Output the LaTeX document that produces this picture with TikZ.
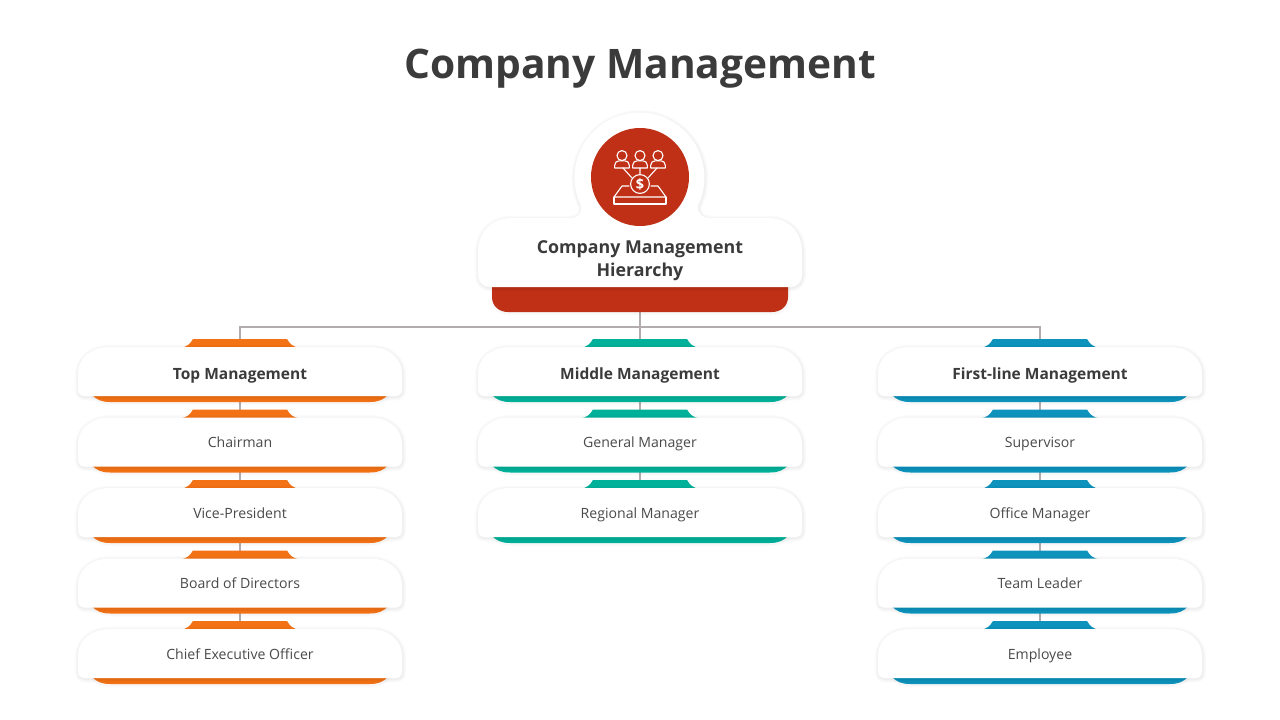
\documentclass[tikz,border=0pt]{standalone}
\usepackage{fontspec}
\setmainfont{Open Sans}
\definecolor{ink}{HTML}{3B3B3B}
\definecolor{bodyink}{HTML}{4A4A4A}
\definecolor{rust}{HTML}{C03017}
\definecolor{orangeC}{HTML}{F37216}
\definecolor{tealC}{HTML}{00B19A}
\definecolor{blueC}{HTML}{0E93BC}
\definecolor{linkC}{HTML}{B2ACAE}
\pgfdeclarelayer{conn}\pgfdeclarelayer{cards}
\pgfsetlayers{conn,cards,main}
\tikzset{
  cardtext/.style={inner sep=0pt,minimum width=324pt,minimum height=49pt,align=center,text=bodyink,font=\fontsize{14.1}{17}\selectfont,text height=11pt,text depth=0pt},
  headtext/.style={cardtext,text=ink,font=\fontsize{15.5}{17}\selectfont\bfseries,text height=16pt,text depth=0pt},
  link/.style={draw=linkC,line width=1.5pt},
  icon/.style={draw=white,line width=1.1pt,line join=round,line cap=round},
  softshadow/.style={draw=black,line width=#1,draw opacity=.014,fill=none,line join=round,shift={(0.5,1)}},
}
\def\cardpath{(-162,27) .. controls (-162,10) and (-148,0) .. (-130,0) -- (130,0) .. controls (148,0) and (162,10) .. (162,27) -- (162,42) .. controls (162,47) and (159,49) .. (155,49) -- (-155,49) .. controls (-159,49) and (-162,47) .. (-162,42) -- cycle}
\def\strippath{(-148,48) .. controls (-143,53) and (-138,55) .. (-130,55) -- (130,55) .. controls (138,55) and (143,53) .. (148,48) -- cycle}
\def\tabpath{(-60,1) .. controls (-53,0) and (-50,-3) .. (-47,-8) -- (47,-8) .. controls (50,-3) and (53,0) .. (60,1) -- cycle}
% name, centre x, top y, colour, text style, text
\newcommand{\mgmtcard}[6]{%
  \begin{scope}[shift={(#2,#3)}]
    \begin{pgfonlayer}{cards}
      \fill[#4] \tabpath;
      \foreach \w in {4pt,2pt}{\draw[softshadow=\w] \strippath;}
      \fill[#4] \strippath;
      \foreach \w in {7pt,5pt,3pt,1.5pt}{\draw[softshadow=\w] \cardpath;}
      \fill[white] \cardpath;
    \end{pgfonlayer}
    \node[#5] (#1) at (0,24.5) {#6};
  \end{scope}}
\begin{document}
\begin{tikzpicture}[x=1pt,y=1pt,yscale=-1]
\useasboundingbox (0,0) rectangle (1280,720);

\node[text=ink,font=\fontsize{40.7}{50}\selectfont\bfseries] (title) at (640,69) {Company Management};

% root
\begin{pgfonlayer}{cards}
  \def\rootbase{(492,280) -- (788,280) -- (788,297) .. controls (788,306) and (781,312) .. (772,312) -- (508,312) .. controls (499,312) and (492,306) .. (492,297) -- cycle}
  \def\rootpath{(478,252) .. controls (478,232) and (491,218) .. (512,218) -- (570,218) .. controls (577,218) and (582,215) .. (581,206) arc[start angle=154,end angle=386,radius=65] .. controls (698,215) and (703,218) .. (710,218) -- (768,218) .. controls (789,218) and (802,232) .. (802,252) -- (802,275) .. controls (802,282) and (797,287) .. (790,287) -- (490,287) .. controls (483,287) and (478,282) .. (478,275) -- cycle}
  \foreach \w in {4pt,2pt}{\draw[softshadow=\w] \rootbase;}
  \fill[rust] \rootbase;
  \foreach \w in {7pt,5pt,3pt,1.5pt}{\draw[softshadow=\w] \rootpath;}
  \fill[white] \rootpath;
\end{pgfonlayer}
\fill[rust] (640,177) circle[radius=49];
\node[inner sep=0pt,minimum width=296pt,minimum height=94pt] (root) at (640,265) {};
\node[inner sep=0pt,align=center,text=ink,font=\fontsize{17.8}{23}\selectfont\bfseries] (roottext) at (640,261) {Company Management\\Hierarchy};

% icon
\draw[icon] (622,155.6) circle[radius=5] (640,155.6) circle[radius=5] (658,155.6) circle[radius=5];
\foreach \c in {622,640,658}{
  \draw[icon,shift={(\c,0)}] (-7.4,168) -- (-7.4,165.5) .. controls (-7.4,162.5) and (-5,160.8) .. (-3,160.8) -- (3,160.8) .. controls (5,160.8) and (7.4,162.5) .. (7.4,165.5) -- (7.4,168) -- cycle;
}
\draw[icon] (623,168) -- (632,178) (640,168) -- (640,174.5) (657,168) -- (648,178);
\draw[icon] (640,184) circle[radius=9.4];
\node[text=white,inner sep=0pt,font=\fontsize{14.5}{15}\selectfont\bfseries] (dollar) at (640,184) {\$};
\draw[icon] (629,186) -- (622,186) -- (614,197) -- (666,197) -- (658,186) -- (651,186);
\draw[icon] (614,197) -- (614,204) -- (666,204) -- (666,197);

% cards
\mgmtcard{top}{240}{347}{orangeC}{headtext}{Top Management}
\mgmtcard{t1}{240}{417.5}{orangeC}{cardtext}{Chairman}
\mgmtcard{t2}{240}{488}{orangeC}{cardtext}{Vice-President}
\mgmtcard{t3}{240}{558.5}{orangeC}{cardtext}{Board of Directors}
\mgmtcard{t4}{240}{629}{orangeC}{cardtext}{Chief Executive Officer}
\mgmtcard{mid}{640}{347}{tealC}{headtext}{Middle Management}
\mgmtcard{m1}{640}{417.5}{tealC}{cardtext}{General Manager}
\mgmtcard{m2}{640}{488}{tealC}{cardtext}{Regional Manager}
\mgmtcard{fst}{1040}{347}{blueC}{headtext}{First-line Management}
\mgmtcard{f1}{1040}{417.5}{blueC}{cardtext}{Supervisor}
\mgmtcard{f2}{1040}{488}{blueC}{cardtext}{Office Manager}
\mgmtcard{f3}{1040}{558.5}{blueC}{cardtext}{Team Leader}
\mgmtcard{f4}{1040}{629}{blueC}{cardtext}{Employee}

% connectors
\begin{pgfonlayer}{conn}
  \coordinate (hub) at (640,327);
  \draw[link] (root.south) -- (mid.north);
  \draw[link] (hub) -| (top.north);
  \draw[link] (hub) -| (fst.north);
  \foreach \a/\b in {top/t1,t1/t2,t2/t3,t3/t4,mid/m1,m1/m2,fst/f1,f1/f2,f2/f3,f3/f4}{
    \draw[link] (\a.south) -- (\b.north);
  }
\end{pgfonlayer}
\end{tikzpicture}
\end{document}
